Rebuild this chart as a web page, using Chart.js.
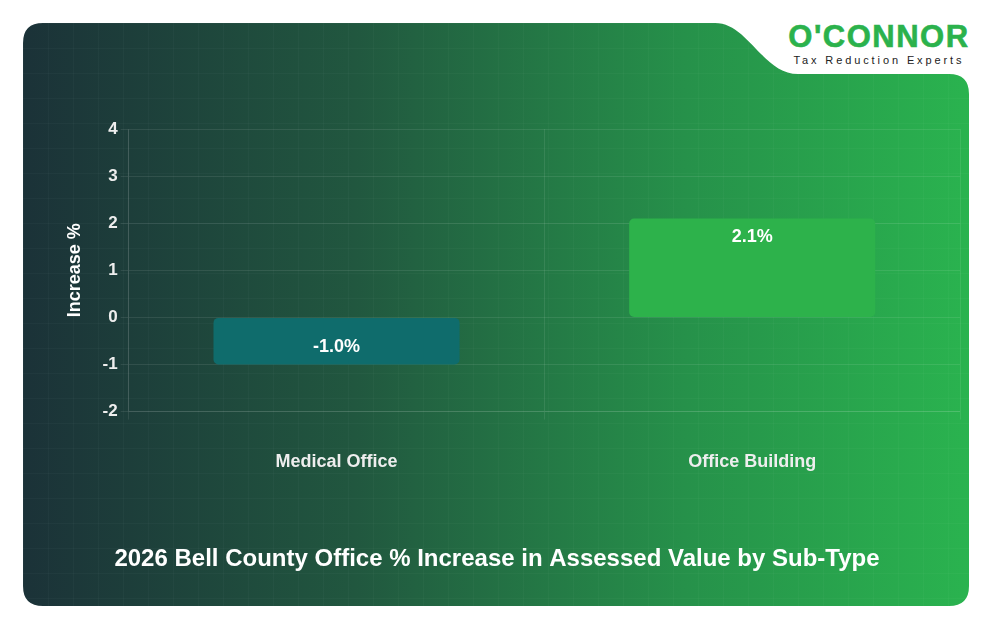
<!DOCTYPE html>
<html>
<head>
<meta charset="utf-8">
<script src="https://cdn.jsdelivr.net/npm/chart.js@4.4.1/dist/chart.umd.min.js"></script>
<style>
    html, body {
        margin: 0;
        padding: 0;
        background: #ffffff;
        width: 994px;
        height: 632px;
        overflow: hidden;
        font-family: "Liberation Sans", Arial, sans-serif;
    }
    .card {
        position: absolute;
        left: 23px;
        top: 23px;
        width: 946px;
        height: 583px;
        background:
            linear-gradient(rgba(255,255,255,0.022) 1px, transparent 1px) 0 0 / 25px 25px,
            linear-gradient(90deg, rgba(255,255,255,0.022) 1px, transparent 1px) 0 0 / 25px 25px,
            linear-gradient(90deg, #1b3238 0%, #21573f 35%, #26914a 70%, #2ab34f 100%);
        clip-path: path("M 0 20 Q 0 0 20 0 L 692 0 C 725 0 740 51 775 51 L 926 51 Q 946 51 946 71 L 946 563 Q 946 583 926 583 L 20 583 Q 0 583 0 563 Z");
    }
    .logo {
        position: absolute;
        left: 784px;
        top: 21px;
        width: 190px;
        text-align: center;
    }
    .logo .brand {
        font-weight: bold;
        font-size: 31px;
        color: #2bb24c;
        letter-spacing: 1.5px;
        line-height: 31px;
        -webkit-text-stroke: 0.6px #2bb24c;
    }
    .logo .tag {
        font-size: 11px;
        color: #222;
        letter-spacing: 2.9px;
        line-height: 14px;
        margin-top: 1px;
    }
    #chartWrap {
        position: absolute;
        left: 0;
        top: 0;
        width: 994px;
        height: 632px;
    }
</style>
</head>
<body>
<div class="card"></div>
<div class="logo">
    <div class="brand">O'CONNOR</div>
    <div class="tag">Tax Reduction Experts</div>
</div>
<div id="chartWrap"><canvas id="officeChart" width="994" height="632"></canvas></div>
<script>
// Chart data
const categories = ["Medical Office", "Office Building"];
const increaseValues = [-1.0, 2.1];
const barColors = ["#0f6c6c", "#2db24b"];
const yMin = -2;
const yMax = 4;
const chartTitle = "2026 Bell County Office % Increase in Assessed Value by Sub-Type";

const fontFamily = "'Liberation Sans', Arial, sans-serif";

// Draws the value label just inside the far end of each bar
const barLabels = {
    id: 'barLabels',
    afterDatasetsDraw(chart) {
        const ctx = chart.ctx;
        const meta = chart.getDatasetMeta(0);
        ctx.save();
        ctx.font = `bold 18px ${fontFamily}`;
        ctx.fillStyle = '#ffffff';
        ctx.textAlign = 'center';
        ctx.textBaseline = 'middle';
        meta.data.forEach((bar, i) => {
            const v = chart.data.datasets[0].data[i];
            const y = v >= 0 ? bar.y + 19 : bar.y - 17;
            ctx.fillText(v.toFixed(1) + '%', bar.x, y);
        });
        ctx.restore();
    }
};

const gridColor = 'rgba(255,255,255,0.09)';

const ctx = document.getElementById('officeChart').getContext('2d');
const officeChart = new Chart(ctx, {
    type: 'bar',
    data: {
        labels: categories,
        datasets: [{
            data: increaseValues,
            backgroundColor: barColors,
            borderRadius: 5,
            borderSkipped: false,
            barPercentage: 0.74,
            categoryPercentage: 0.8
        }]
    },
    options: {
        responsive: false,
        animation: false,
        layout: {
            padding: { left: 34, right: 34, top: 129, bottom: 48 }
        },
        scales: {
            x: {
                grid: { color: gridColor, tickLength: 8 },
                border: { color: gridColor },
                ticks: {
                    color: '#eeeeee',
                    padding: 32,
                    font: { family: fontFamily, size: 18, weight: 'bold' }
                }
            },
            y: {
                min: yMin,
                max: yMax,
                grid: { color: gridColor, tickLength: 8 },
                border: { color: gridColor },
                ticks: {
                    stepSize: 1,
                    color: '#eeeeee',
                    padding: 3,
                    font: { family: fontFamily, size: 17, weight: 'bold' }
                },
                title: {
                    display: true,
                    text: 'Increase %',
                    color: '#ffffff',
                    padding: { top: 30, bottom: 14 },
                    font: { family: fontFamily, size: 18, weight: 'bold' }
                }
            }
        },
        plugins: {
            legend: { display: false },
            tooltip: { enabled: false },
            title: {
                display: true,
                position: 'bottom',
                text: chartTitle,
                color: '#ffffff',
                padding: { top: 40, bottom: 10 },
                font: { family: fontFamily, size: 24, weight: 'bold' }
            }
        }
    },
    plugins: [barLabels]
});
</script>
</body>
</html>
